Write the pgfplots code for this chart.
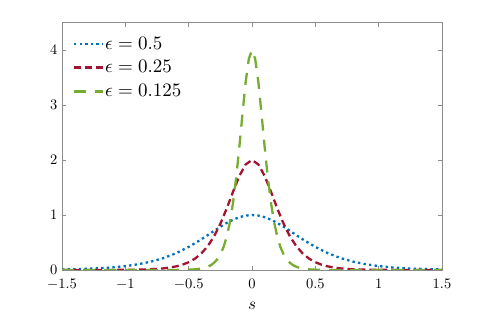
\RequirePackage{fix-cm}
\documentclass[border=0pt]{standalone}
\usepackage{graphicx}
\usepackage{pgfplots}
\pgfplotsset{compat=1.18}
\definecolor{mblue}{RGB}{0,114,189}
\definecolor{mred}{RGB}{162,20,47}
\definecolor{mgreen}{RGB}{119,172,48}
\definecolor{axgray}{RGB}{140,140,140}
\newcommand{\legtxt}[1]{\scalebox{1.9}{$#1$}}
\begin{document}
\begin{tikzpicture}[x=1pt,y=1pt]
\path[use as bounding box] (0,0) rectangle (488,315);
\begin{axis}[
  at={(62pt,45pt)}, anchor=south west,
  scale only axis, width=380pt, height=247.3pt,
  xmin=-1.5, xmax=1.5, ymin=0, ymax=4.5,
  xtick={-1.5,-1,-0.5,0,0.5,1,1.5},
  ytick={0,1,2,3,4},
  xticklabel={\scalebox{1.45}{$\pgfmathprintnumber{\tick}$}},
  yticklabel={\scalebox{1.45}{$\pgfmathprintnumber{\tick}$}},
  axis line style={axgray, line width=0.7pt},
  tick style={axgray, line width=0.7pt},
  tick align=inside, major tick length=4pt,
  xticklabel style={yshift=-5.5pt},
  yticklabel style={xshift=-1pt},
  xlabel={\scalebox{1.7}{$s$}}, xlabel style={yshift=-5.5pt},
  legend style={at={(0.028,0.947)}, anchor=north west, draw=none, fill=none,
    row sep=8pt, inner sep=0pt, nodes={inner sep=1pt}},
  legend cell align=left,
  legend image code/.code={\draw[#1] (0pt,0pt) -- (29pt,0pt);},
]
\addplot[mblue, line width=2.3pt, dash pattern=on 2.4pt off 3.2pt] coordinates {
(-1.5,0.010)(-1.4,0.015)(-1.3,0.022)(-1.2,0.032)(-1.1,0.048)(-1.0,0.071)(-0.9,0.104)(-0.8,0.151)(-0.7,0.216)(-0.6,0.305)(-0.5,0.420)(-0.45,0.488)(-0.4,0.559)(-0.35,0.634)(-0.3,0.712)(-0.25,0.786)(-0.2,0.856)(-0.15,0.915)(-0.1,0.961)(-0.05,0.990)(0,1)
(0.05,0.990)(0.1,0.961)(0.15,0.915)(0.2,0.856)(0.25,0.786)(0.3,0.712)(0.35,0.634)(0.4,0.559)(0.45,0.488)(0.5,0.420)(0.6,0.305)(0.7,0.216)(0.8,0.151)(0.9,0.104)(1.0,0.071)(1.1,0.048)(1.2,0.032)(1.3,0.022)(1.4,0.015)(1.5,0.010)};
\addlegendentry{\legtxt{\epsilon=0.5}}
\addplot[mred, line width=2.3pt, dash pattern=on 7pt off 4pt] coordinates {
(-1.5,0.00005)(-1.25,0.0004)(-1.05,0.0018)(-0.95,0.004)(-0.85,0.009)(-0.75,0.020)(-0.7,0.029)(-0.65,0.044)(-0.6,0.065)(-0.55,0.096)(-0.5,0.141)(-0.45,0.207)(-0.4,0.301)(-0.35,0.432)(-0.3,0.610)(-0.25,0.840)(-0.2,1.118)(-0.15,1.423)(-0.1,1.711)(-0.05,1.922)(0,2)
(0.05,1.922)(0.1,1.711)(0.15,1.423)(0.2,1.118)(0.25,0.840)(0.3,0.610)(0.35,0.432)(0.4,0.301)(0.45,0.207)(0.5,0.141)(0.55,0.096)(0.6,0.065)(0.65,0.044)(0.7,0.029)(0.75,0.020)(0.85,0.009)(0.95,0.004)(1.05,0.0018)(1.25,0.0004)(1.5,0.00005)};
\addlegendentry{\legtxt{\epsilon=0.25}}
\addplot[mgreen, line width=2.3pt, dash pattern=on 12pt off 9pt] coordinates {
(-1.5,0)(-1.0,0)(-0.75,0.0001)(-0.625,0.0007)(-0.525,0.0036)(-0.475,0.008)(-0.425,0.018)(-0.375,0.039)(-0.35,0.059)(-0.325,0.087)(-0.3,0.130)(-0.275,0.192)(-0.25,0.283)(-0.225,0.414)(-0.2,0.602)(-0.175,0.865)(-0.15,1.220)(-0.125,1.680)(-0.1,2.236)(-0.075,2.846)(-0.05,3.423)(-0.025,3.844)(0,4)
(0.025,3.844)(0.05,3.423)(0.075,2.846)(0.1,2.236)(0.125,1.680)(0.15,1.220)(0.175,0.865)(0.2,0.602)(0.225,0.414)(0.25,0.283)(0.275,0.192)(0.3,0.130)(0.325,0.087)(0.35,0.059)(0.375,0.039)(0.425,0.018)(0.475,0.008)(0.525,0.0036)(0.625,0.0007)(0.75,0.0001)(1.0,0)(1.5,0)};
\addlegendentry{\legtxt{\epsilon=0.125}}
\end{axis}
\end{tikzpicture}
\end{document}
